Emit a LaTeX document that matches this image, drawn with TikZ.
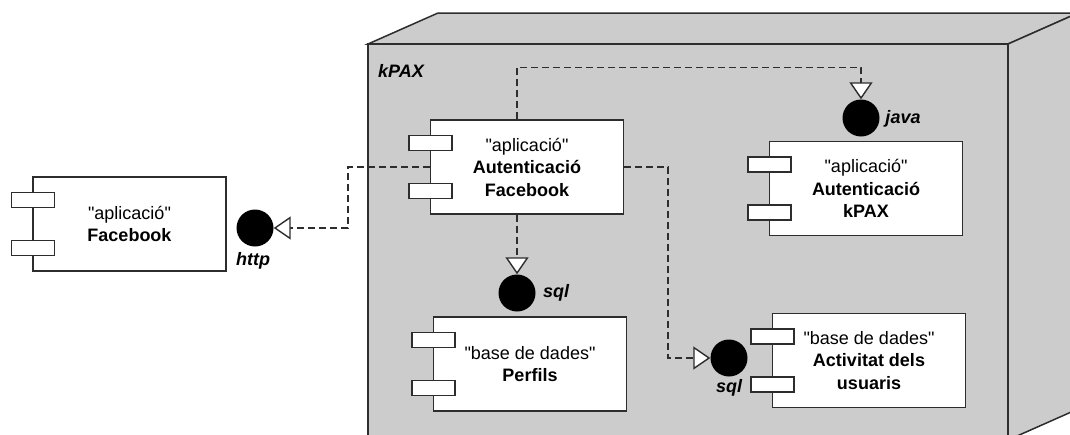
\documentclass[tikz,border=0pt]{standalone}
\usepackage{fontspec}
\setmainfont{Liberation Sans}
\usetikzlibrary{arrows.meta,calc}
\definecolor{nodegray}{RGB}{204,204,204}
\definecolor{edgecol}{RGB}{45,45,45}
\newcommand\qq[1]{\textquotedbl#1\textquotedbl}
\newcommand\compports[1]{%
  \node[port] (#1p1) at ($(#1.west)+(0.5,-24)$) {};
  \node[port] (#1p2) at ($(#1.west)+(0.5,24)$) {};}
\begin{document}
\begin{tikzpicture}[x=1pt,y=-1pt,
 comp/.style={draw=edgecol, line width=1.3pt, fill=white, minimum width=193pt, minimum height=94pt, align=center, font=\fontsize{18}{22.5}\selectfont, inner sep=0pt},
 port/.style={draw=edgecol, line width=1.3pt, fill=white, minimum width=43pt, minimum height=15pt, inner sep=0pt},
 iface/.style={circle, fill=black, minimum size=37pt, inner sep=0pt},
 ilabel/.style={font=\fontsize{18}{22}\selectfont\bfseries\itshape, inner sep=0pt},
 dep/.style={draw=edgecol, line width=1.4pt, dash pattern=on 7pt off 4pt, -{Triangle[open, fill=white, length=17pt, width=23pt]}},
 nodeface/.style={fill=nodegray, draw=edgecol, line width=1.5pt, line join=miter}
 ]
\useasboundingbox (0,0) rectangle (1070,434);
\begin{scope}
\clip (0,0) rectangle (1070,434);
\fill[white] (0,0) rectangle (1070,434);
\draw[nodeface] (368,44) -- (438,13) -- (1078,13) -- (1008,44) -- cycle;
\draw[nodeface] (1008,44) -- (1078,13) -- (1078,409) -- (1008,440) -- cycle;
\draw[nodeface] (368,44) rectangle (1008,440);
\end{scope}
\node[anchor=west, ilabel] (kpaxlbl) at (378,71) {kPAX};

% components
\node[comp] (fb) at (129.5,224) {\qq{aplicació}\\\textbf{Facebook}};
\compports{fb}
\node[comp] (aufb) at (527,167) {\qq{aplicació}\\\textbf{Autenticació}\\\textbf{Facebook}};
\compports{aufb}
\node[comp] (aukp) at (866,188.5) {\qq{aplicació}\\\textbf{Autenticació}\\\textbf{kPAX}};
\compports{aukp}
\node[comp] (perf) at (530,364) {\qq{base de dades}\\\textbf{Perfils}};
\compports{perf}
\node[comp] (act) at (869,360.5) {\qq{base de dades}\\\textbf{Activitat dels}\\\textbf{usuaris}};
\compports{act}

% interfaces
\node[iface] (ihttp) at (255,228) {};
\node[ilabel] (lhttp) at (253,261) {http};
\node[iface] (isqla) at (517,293) {};
\node[ilabel] (lsqla) at (556,293) {sql};
\node[iface] (ijava) at (861,118) {};
\node[ilabel] (ljava) at (903,119) {java};
\node[iface] (isqlb) at (729,358) {};
\node[ilabel] (lsqlb) at (729,388) {sql};

% dependencies
\draw[dep] (aufb.west) -- ++(-82,0) |- (ihttp);
\draw[dep] (aufb.north -| isqla) -- ++(0,-52) -| (ijava);
\draw[dep] (aufb.south -| isqla) -- (isqla);
\draw[dep] (aufb.east) -- ++(44,0) |- (isqlb);
\end{tikzpicture}
\end{document}
